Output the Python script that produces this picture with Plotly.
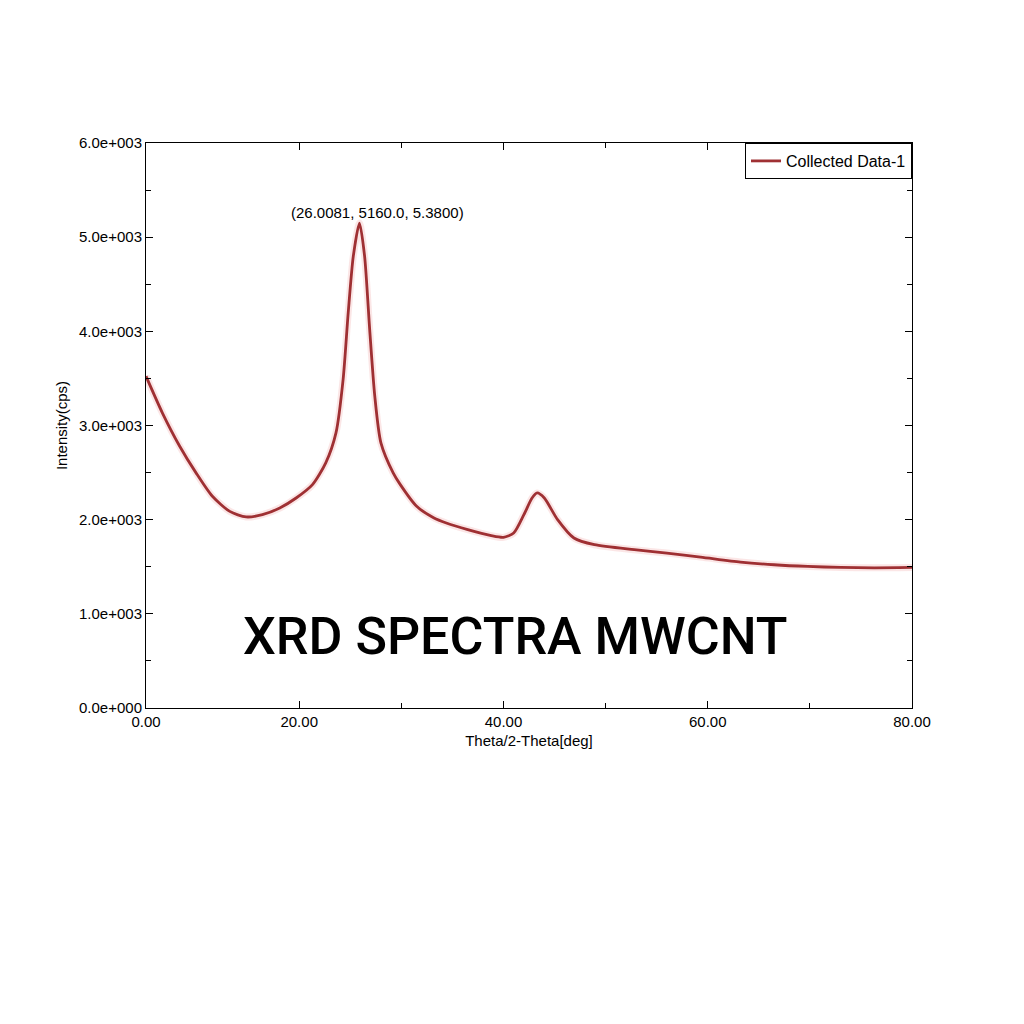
import plotly.graph_objects as go

# values
two_theta = [5.0, 6.6, 8.3, 9.9, 11.5, 13.2, 14.8, 16.4, 18.1, 19.7,
             21.3, 22.6, 23.6, 24.3, 24.8, 25.3, 25.9, 26.4, 26.9, 27.4,
             28.0, 29.2, 29.9, 31.5, 33.2, 34.4, 36.5, 38.8, 40.0, 41.0,
             42.0, 42.8, 43.3, 44.0, 45.3, 46.9, 48.9, 52.8, 56.0, 59.3,
             63.2, 66.5, 69.8, 73.0, 76.3, 80.0]
intensity = [3524, 3135, 2780, 2497, 2248, 2088, 2029, 2053, 2124, 2230,
             2372, 2603, 2922, 3490, 4199, 4801, 5150, 4801, 4021, 3312,
             2816, 2497, 2372, 2142, 2018, 1965, 1894, 1830, 1812, 1858,
             2053, 2230, 2284, 2230, 2000, 1805, 1734, 1681, 1645, 1603,
             1550, 1521, 1503, 1493, 1489, 1493]

x_tickvals = [5, 20, 40, 60, 80]
x_ticktext = ["0.00", "20.00", "40.00", "60.00", "80.00"]
x_minor = [30, 50, 70]
y_tickvals = [0, 1000, 2000, 3000, 4000, 5000, 6000]
y_ticktext = ["0.0e+000", "1.0e+003", "2.0e+003", "3.0e+003",
              "4.0e+003", "5.0e+003", "6.0e+003"]

peak_label = "(26.0081, 5160.0, 5.3800)"
overlay_title = "XRD SPECTRA MWCNT"

fig = go.Figure()

# faint halo under the line
fig.add_trace(go.Scatter(
    x=two_theta, y=intensity, mode="lines",
    line=dict(color="rgba(230,90,90,0.15)", width=7, shape="spline", smoothing=0.7),
    showlegend=False, hoverinfo="skip",
))
fig.add_trace(go.Scatter(
    x=two_theta, y=intensity, mode="lines", name="Collected Data-1",
    line=dict(color="#9f3033", width=2.8, shape="spline", smoothing=0.7),
))

fig.add_annotation(
    x=27.7, y=5266, xref="x", yref="y", text=peak_label, showarrow=False,
    font=dict(family="Liberation Sans, Arial", size=15, color="black"),
)
fig.add_annotation(
    x=0.483, y=0.127, xref="paper", yref="paper", text=overlay_title,
    showarrow=False, xanchor="center", yanchor="middle",
    font=dict(family="Roboto", size=52, color="black", weight=500),
)

axis_font = dict(family="Liberation Sans, Arial", size=15, color="black")

fig.update_xaxes(
    range=[5, 80], tickmode="array", tickvals=x_tickvals, ticktext=x_ticktext,
    ticks="inside", ticklen=7, tickcolor="black", tickwidth=1,
    minor=dict(tickmode="array", tickvals=x_minor, ticks="inside", ticklen=5,
               tickcolor="black"),
    showline=True, linecolor="black", linewidth=1, mirror="ticks",
    showgrid=False, zeroline=False, tickfont=axis_font,
    title=dict(text="Theta/2-Theta[deg]", font=axis_font, standoff=6),
)
fig.update_yaxes(
    range=[0, 6000], tickmode="array", tickvals=y_tickvals, ticktext=y_ticktext,
    ticks="inside", ticklen=7, tickcolor="black", tickwidth=1,
    minor=dict(dtick=500, ticks="inside", ticklen=5, tickcolor="black"),
    showline=True, linecolor="black", linewidth=1, mirror="ticks",
    showgrid=False, zeroline=False, tickfont=axis_font,
    title=dict(text="Intensity(cps)", font=axis_font, standoff=7),
)

fig.update_layout(
    width=1024, height=1024,
    margin=dict(l=138, r=120, t=135, b=324),
    paper_bgcolor="white", plot_bgcolor="white",
    font=axis_font,
    legend=dict(x=1, y=1, xanchor="right", yanchor="top",
                bordercolor="black", borderwidth=1, bgcolor="white",
                font=dict(family="Liberation Sans, Arial", size=16, color="black")),
)

fig.write_html("out.html")
